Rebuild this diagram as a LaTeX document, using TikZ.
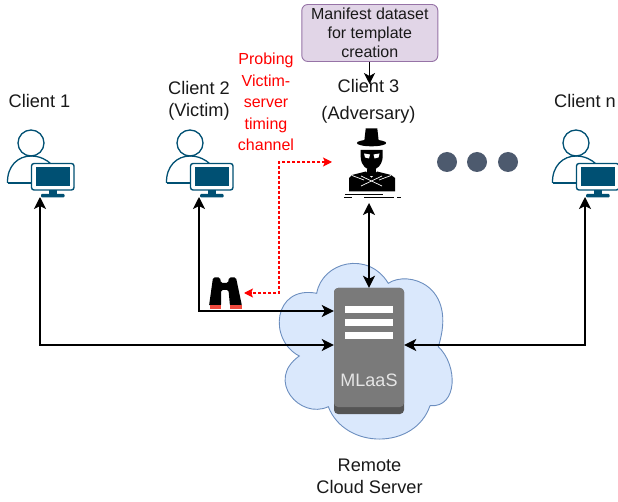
\documentclass[tikz,border=0pt]{standalone}
\usepackage{fontspec}
\setmainfont{Liberation Sans}
\usetikzlibrary{arrows.meta}

\definecolor{clientblue}{HTML}{005073}
\definecolor{cloudfill}{HTML}{DAE8FC}
\definecolor{clouddraw}{HTML}{6C8EBF}
\definecolor{boxfill}{HTML}{E1D5E7}
\definecolor{boxdraw}{HTML}{9673A6}
\definecolor{dotgrey}{HTML}{4D5A6E}
\definecolor{servergrey}{HTML}{7A7A7A}
\definecolor{serverdark}{HTML}{555555}
\definecolor{footred}{HTML}{F04A3E}

\tikzset{
    label18/.style={font=\fontsize{18.2}{22}\selectfont,align=center,text=black!90},
    redtext/.style={font=\fontsize{16}{21.5}\selectfont,align=center,text=red},
    biarrow/.style={line width=1.7pt,{Stealth[length=12pt,width=12pt,inset=3pt]}-{Stealth[length=12pt,width=12pt,inset=3pt]}},
    onearrow/.style={line width=1.2pt,-{Stealth[length=11pt,width=11pt,inset=3pt]}},
    probearrow/.style={draw=red,densely dashed,line width=1.1pt,{Stealth[length=9pt,width=9pt,inset=2pt]}-{Stealth[length=9pt,width=9pt,inset=2pt]}},
    pics/clienticon/.style={code={
        \draw[clientblue,line width=1.3pt,fill=white] (31,143) circle (13);
        \draw[clientblue,line width=1.3pt] (7.5,183) .. controls (7,166) and (18,156) .. (31,156)
            .. controls (40,156) and (47,160) .. (51,164);
        \draw[clientblue,line width=1.3pt] (7.5,183) -- (31,183);
        \draw[clientblue,line width=1.4pt,fill=white,rounded corners=2.5] (31.5,163.5) rectangle (74,190);
        \fill[clientblue] (35.5,167) rectangle (69.5,186);
        \fill[clientblue] (49,190) rectangle (57,195);
        \fill[clientblue,rounded corners=1] (41,194) rectangle (64.5,197.5);
    }}
}

\begin{document}
\begin{tikzpicture}[x=1pt,y=-1pt]
    \useasboundingbox (0,0) rectangle (618,502);

    % Cloud
    \draw[fill=cloudfill,draw=clouddraw,line width=0.9pt] (316.7,293.3)
        .. controls (322,262) and (368,250) .. (388.3,283.3)
        .. controls (408,270) and (458,285) .. (438.3,346.7)
        .. controls (458,365) and (458,408) .. (430,405.7)
        .. controls (415,450) and (345,450) .. (328.3,406.7)
        .. controls (300,420) and (265,380) .. (299.3,356)
        .. controls (268,340) and (273,285) .. (316.7,293.3) -- cycle;

    % Server
    \node[draw=none,fill=serverdark,rounded corners=4pt,minimum width=70pt,minimum height=126pt,inner sep=0pt] (mlaas) at (369,351) {};
    \fill[servergrey,rounded corners=4pt] (334,288) rectangle (404,407);
    \foreach \y in {306,318.7,331.7} {
        \fill[white] (345,\y) rectangle (393.3,\y+7.3);
    }
    \node[font=\fontsize{18}{22}\selectfont,text=white!90!black] (mlaastext) at (369,380) {MLaaS};
    \node[label18] (cloudtext) at (369.5,476) {Remote\\Cloud Server};

    % Clients
    \pic at (0,0) {clienticon};
    \pic at (159,0) {clienticon};
    \pic at (545,0) {clienticon};
    \node[label18] (clientatext) at (39.5,101) {Client 1};
    \node[label18] (clientbtext) at (199,101) {Client 2\\(Victim)};
    \node[label18,font=\fontsize{18.2}{27}\selectfont] (clientctext) at (368.5,101) {Client 3\\(Adversary)};
    \node[label18] (clientntext) at (585,101) {Client n};

    % Adversary
    \fill[black] (365.7,128.5) -- (377.3,128.5) -- (379,143.5) -- (364,143.5) -- cycle;
    \fill[black] (371.5,143) ellipse (14.7 and 3.3);
    \fill[black] (360.7,150) -- (382.7,150) -- (382.7,157) .. controls (382,166) and (376,170) .. (371.5,170)
        .. controls (367,170) and (361,166) .. (360.7,157) -- cycle;
    \fill[white] (364,153.5) -- (370,154.5) -- (369,158.5) -- (365,157.5) -- cycle;
    \fill[white] (379.5,153.5) -- (373.5,154.5) -- (374.5,158.5) -- (378.5,157.5) -- cycle;
    \fill[black] (367,169) rectangle (376,176);
    \fill[black] (349,191.5) -- (349,178) -- (352,175) -- (366,171.5) -- (371.5,178) -- (377,171.5) -- (391,175) -- (395,178) -- (395,191.5) -- cycle;
    \draw[white,line width=0.7pt] (352,175.5) -- (364,180) (391,175.5) -- (379,180)
        (361,176) -- (382,186) (382,176) -- (361,186);
    \draw[black,line width=0.8pt] (344,197.5) -- (352,197.5) (345,194) -- (383,194) (364,197.5) -- (394,197.5) (397,197.5) -- (401,197.5);

    % Dots
    \foreach \x in {447,477,508} {
        \fill[dotgrey] (\x,162) circle (10);
    }

    % Binoculars
    \fill[black,rounded corners=1.5pt] (213,277.5) -- (220,277.5) -- (221,283) -- (228,283) -- (229,277.5) -- (236,277.5)
        -- (242,306) -- (230,306) -- (228.5,290) -- (221,290) -- (221,306) -- (209,306) -- cycle;
    \fill[footred] (209.5,305.5) rectangle (221,309);
    \fill[footred] (230,305.5) rectangle (241.7,309);

    % Dataset box
    \node[draw=boxdraw,fill=boxfill,rounded corners=6pt,line width=0.9pt,minimum width=136pt,minimum height=57pt,inner sep=0pt,font=\fontsize{16}{19}\selectfont,align=center,text=black!90] (manifest) at (369.8,33) {Manifest dataset\\for template\\creation};

    % Red text
    \node[redtext] (probetext) at (266,102) {Probing\\Victim-\\server\\timing\\channel};

    % Ports
    \coordinate (clientaport) at (40,197);
    \coordinate (clientbport) at (199,197);
    \coordinate (clientcport) at (369,203);
    \coordinate (clientnport) at (585,197);
    \coordinate (manifestport) at (369.5,84);
    \coordinate (inb) at (mlaas.west |- 0,311);
    \coordinate (ina) at (mlaas.west |- 0,345);
    \coordinate (inn) at (mlaas.east |- 0,345);
    \coordinate (probeport) at (332,162);
    \coordinate (probemid) at (279,230);
    \coordinate (binocport) at (244,293);

    % Connectors
    \draw[biarrow] (clientaport) |- (ina);
    \draw[biarrow] (clientbport) |- (inb);
    \draw[biarrow] (clientnport) |- (inn);
    \draw[biarrow] (clientcport) -- (mlaas.north -| clientcport);
    \draw[onearrow] (manifest.south -| manifestport) -- (manifestport);
    \draw[probearrow] (probeport) -| (probemid) |- (binocport);
\end{tikzpicture}
\end{document}
